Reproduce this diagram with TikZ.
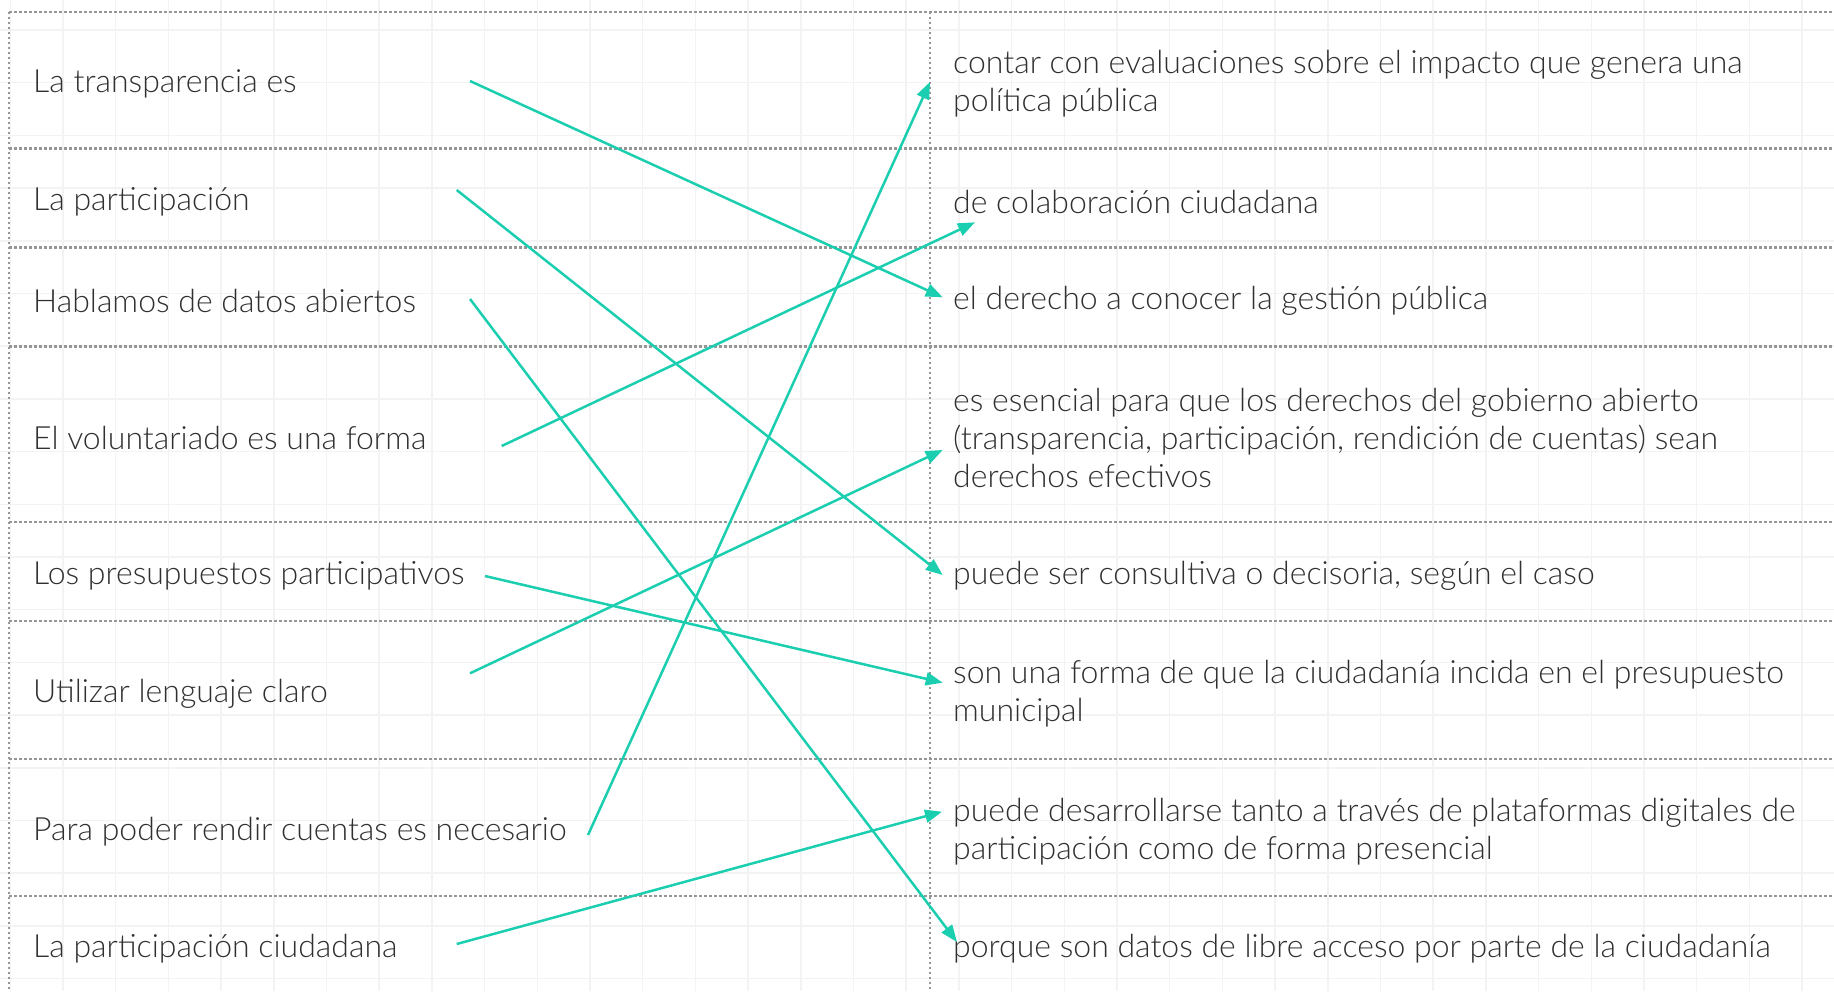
\documentclass[tikz,border=0pt]{standalone}
\usepackage{fontspec}
\IfFontExistsTF{Lato Light}{\setmainfont{Lato Light}}{\setmainfont{Lato}}
\usetikzlibrary{arrows.meta}
\definecolor{teal}{RGB}{28,206,176}
\definecolor{txt}{RGB}{48,48,48}
\definecolor{gridc}{RGB}{243,243,243}
\definecolor{dotc}{RGB}{150,150,150}
\tikzset{
  gridline/.style={draw=gridc, line width=1.5pt},
  sepline/.style={draw=dotc, line width=2.2pt, dash pattern=on 2.2pt off 2.8pt},
  lefttext/.style={anchor=west, inner sep=0pt, text=txt, font=\fontsize{32}{38}\selectfont, align=left},
  righttext/.style={anchor=west, inner sep=0pt, text=txt, font=\fontsize{32}{38}\selectfont, align=left},
  link/.style={draw=teal, line width=2.5pt, -{Triangle[length=17pt,width=13pt]}},
}
\begin{document}
\begin{tikzpicture}[x=1pt,y=-1pt]
\useasboundingbox (0,0) rectangle (1834,991);
\fill[white] (0,0) rectangle (1834,991);
% faint grid
\foreach \i in {0,...,34} \draw[gridline] ({10.3+\i*52.7},0) -- ({10.3+\i*52.7},991);
\foreach \j in {0,...,18} \draw[gridline] (0,{30+\j*52.7}) -- (1834,{30+\j*52.7});
% table lines
\foreach \y in {11.7,148.5,247.5,346.5,522,621,759.3,896} \draw[sepline] (9.3,\y) -- (1834,\y);
\draw[sepline] (9.3,11.7) -- (9.3,991);
\draw[sepline] (930,11.7) -- (930,991);
% left texts
\node[lefttext] (L1) at (33,84) {La transparencia es};
\node[lefttext] (L2) at (33,202) {La participación};
\node[lefttext] (L3) at (33,301) {Hablamos de datos abiertos};
\node[lefttext] (L4) at (33,438) {El voluntariado es una forma};
\node[lefttext] (L5) at (33,575.5) {Los presupuestos participativos};
\node[lefttext] (L6) at (33,694) {Utilizar lenguaje claro};
\node[lefttext] (L7) at (33,831.5) {Para poder rendir cuentas es necesario};
\node[lefttext] (L8) at (33,949) {La participación ciudadana};
% right texts
\node[righttext] (R1) at (953,84) {contar con evaluaciones sobre el impacto que genera una\\política pública};
\node[righttext] (R2) at (953,202) {de colaboración ciudadana};
\node[righttext] (R3) at (953,301) {el derecho a conocer la gestión pública};
\node[righttext] (R4) at (953,438) {es esencial para que los derechos del gobierno abierto\\(transparencia, participación, rendición de cuentas) sean\\derechos efectivos};
\node[righttext] (R5) at (953,575.5) {puede ser consultiva o decisoria, según el caso};
\node[righttext] (R6) at (953,694) {son una forma de que la ciudadanía incida en el presupuesto\\municipal};
\node[righttext] (R7) at (953,831.5) {puede desarrollarse tanto a través de plataformas digitales de\\participación como de forma presencial};
\node[righttext] (R8) at (953,949) {porque son datos de libre acceso por parte de la ciudadanía};
% connector end points
\coordinate (s1) at (470,81);
\coordinate (s2) at (456.7,190);
\coordinate (s3) at (470,299);
\coordinate (s4) at (501.7,446);
\coordinate (s5) at (485,576);
\coordinate (s6) at (470,673.3);
\coordinate (s7) at (588,835);
\coordinate (s8) at (456.7,944);
\coordinate (e1) at (942.7,297.3);
\coordinate (e2) at (942.7,575);
\coordinate (e3) at (957,942);
\coordinate (e4) at (975,222.3);
\coordinate (e5) at (942.7,682.7);
\coordinate (e6) at (942.7,450);
\coordinate (e7) at (930,82);
\coordinate (e8) at (942,811.7);
\foreach \k in {1,...,8} \draw[link] (s\k) -- (e\k);
\end{tikzpicture}
\end{document}
